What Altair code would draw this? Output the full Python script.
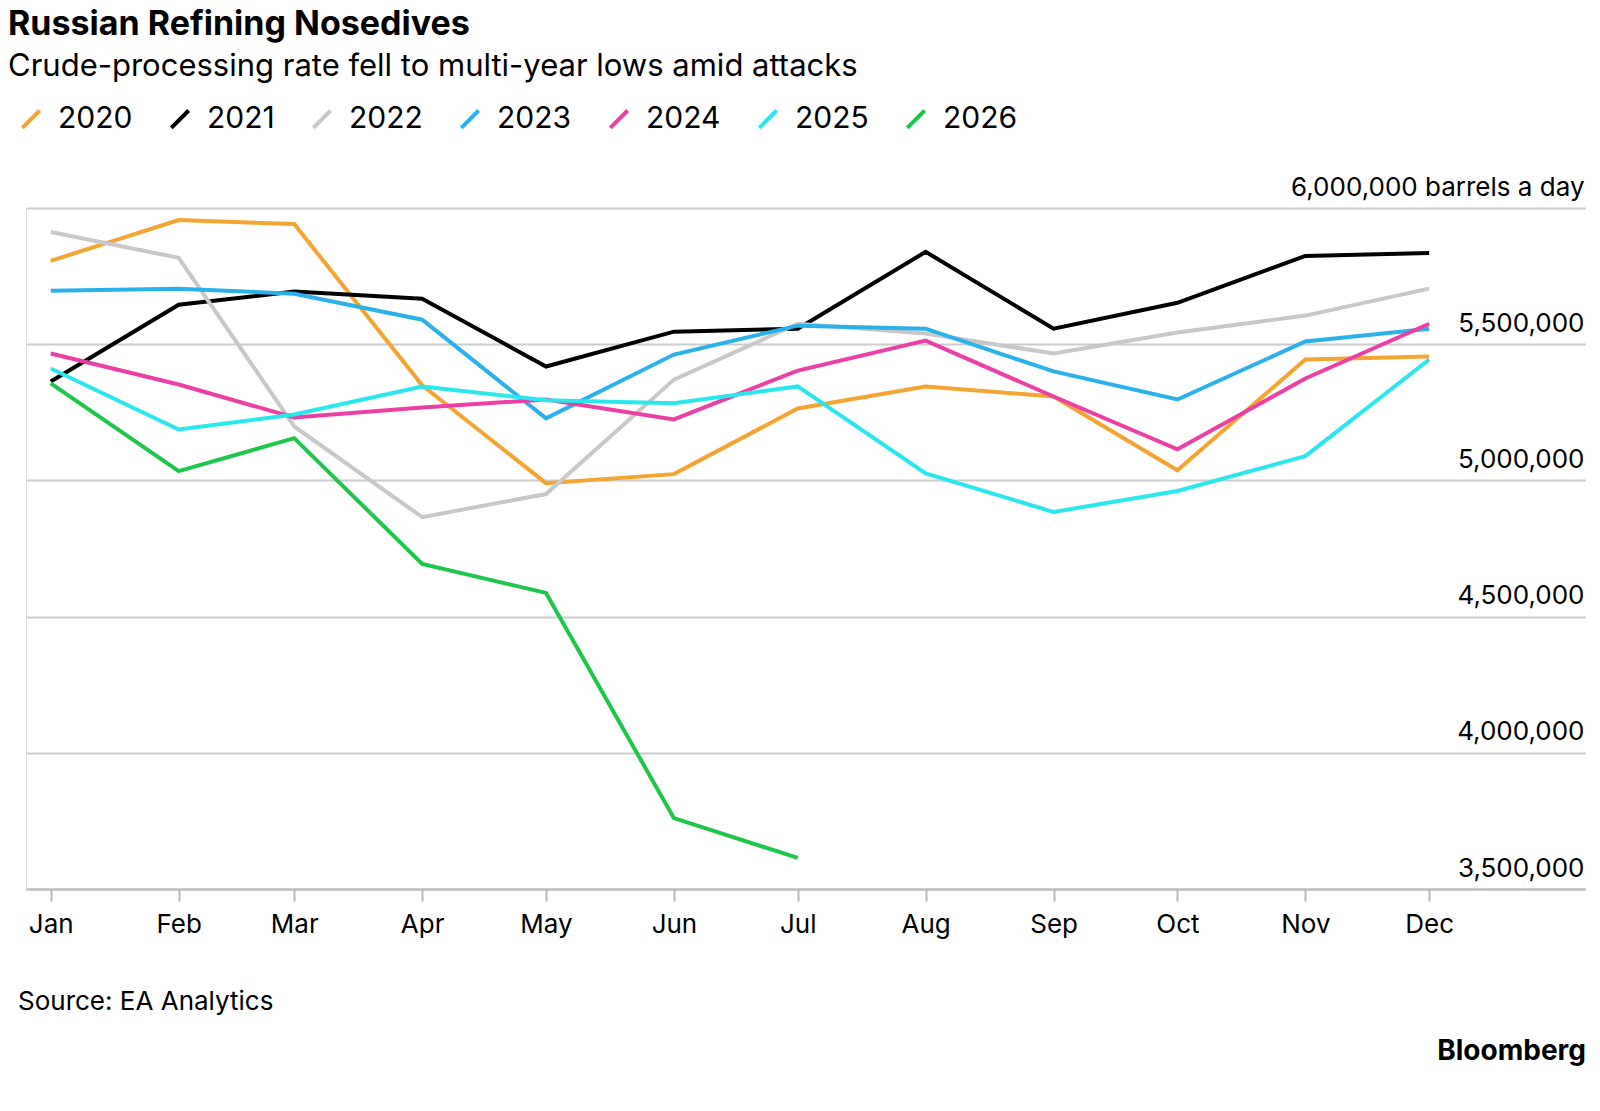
import altair as alt
import pandas as pd

months = ["2023-01-01","2023-02-01","2023-03-01","2023-04-01","2023-05-01","2023-06-01",
          "2023-07-01","2023-08-01","2023-09-01","2023-10-01","2023-11-01","2023-12-01"]
years = ["2020","2021","2022","2023","2024","2025","2026"]
v2020 = [5806000,5956000,5941000,5349000,4990000,5023000,5264000,5345000,5308000,5037000,5444000,5455000]
v2021 = [5363000,5645000,5693000,5667000,5418000,5546000,5557000,5839000,5557000,5652000,5824000,5835000]
v2022 = [5912000,5817000,5198000,4865000,4950000,5370000,5575000,5539000,5466000,5543000,5605000,5704000]
v2023 = [5696000,5704000,5685000,5590000,5228000,5462000,5568000,5557000,5400000,5297000,5510000,5557000]
v2024 = [5466000,5352000,5231000,5268000,5297000,5224000,5403000,5513000,5308000,5114000,5374000,5575000]
v2025 = [5411000,5187000,5242000,5345000,5294000,5283000,5345000,5026000,4884000,4961000,5089000,5444000]
v2026 = [5356000,5034000,5155000,4693000,4587000,3760000,3614000]
colors = ["#f5a431","#000000","#c8c8c8","#2ab1ec","#ec3fa6","#2ae6ee","#1ec64a"]

rows = []
for y, vals in zip(years, [v2020,v2021,v2022,v2023,v2024,v2025,v2026]):
    for m, v in zip(months, vals):
        rows.append({"month": m, "year": y, "value": v})
df = pd.DataFrame(rows)

FONT = "Inter"
W, H = 1560, 681

lines = alt.Chart(df).mark_line(strokeWidth=4, clip=False).encode(
    x=alt.X("month:T",
            scale=alt.Scale(domain=["2022-12-26","2024-01-08"]),
            axis=alt.Axis(title=None, format="%b", values=months, grid=False,
                          labelFontSize=26, labelColor="#000", labelFont=FONT,
                          tickSize=12, tickColor="#bbb", tickWidth=2,
                          domainColor="#bbb", domainWidth=2, labelPadding=10)),
    y=alt.Y("value:Q", scale=alt.Scale(domain=[3500000, 6000000], nice=False, zero=False),
            axis=alt.Axis(title=None, orient="right", values=[3500000,4000000,4500000,5000000,5500000,6000000],
                          labelExpr="datum.value == 6000000 ? '6,000,000 barrels a day' : format(datum.value, ',')",
                          labelAlign="right", labelBaseline="bottom", labelPadding=-2, labelOffset=-8,
                          labelLimit=500,
                          labelFontSize=26, labelColor="#000", labelFont=FONT,
                          ticks=False, domain=False, gridColor="#ccc", gridWidth=2)),
    color=alt.Color("year:N", scale=alt.Scale(domain=years, range=colors),
                    legend=alt.Legend(title=None, orient="none", legendX=-10, legendY=-104,
                                      direction="horizontal", symbolType="M-1,1L1,-1",
                                      symbolStrokeWidth=4, symbolSize=300, labelFontSize=30,
                                      labelFont=FONT, labelColor="#000", columnPadding=30,
                                      symbolOffset=0, labelOffset=12))
)

foot = pd.DataFrame({"t": ["Source: EA Analytics"]})
src = alt.Chart(foot).mark_text(align="left", baseline="middle", fontSize=26, font=FONT, color="#000").encode(
    text="t:N", x=alt.value(-8), y=alt.value(H + 113))
bb = alt.Chart(pd.DataFrame({"t": ["Bloomberg"]})).mark_text(align="right", baseline="middle", fontSize=28,
    font=FONT, fontWeight="bold", color="#000").encode(text="t:N", x=alt.value(W), y=alt.value(H + 163))

chart = alt.layer(lines, src, bb).properties(
    width=W, height=H,
    title=alt.TitleParams("Russian Refining Nosedives",
                          subtitle="Crude-processing rate fell to multi-year lows amid attacks",
                          anchor="start", font=FONT, fontSize=34, fontWeight="bold", color="#000",
                          subtitleFont=FONT, subtitleFontSize=31, subtitleColor="#000",
                          subtitlePadding=10, offset=22, dx=-8)
).configure_view(stroke=None).configure(background="white", padding={"left": 0, "top": 0, "right": 0, "bottom": 0})

chart.save("out.html", embed_options={"renderer": "svg", "actions": False})
